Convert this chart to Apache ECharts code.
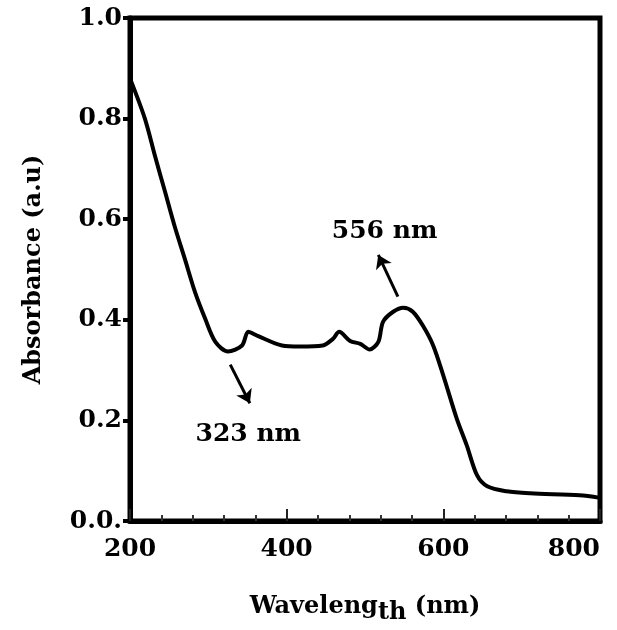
<!DOCTYPE html>
<html>
<head>
<meta charset="utf-8">
<script src="https://cdn.jsdelivr.net/npm/echarts@6/dist/echarts.min.js"></script>
<style>
  html, body { margin: 0; padding: 0; background: #fff; }
  #chart { width: 617px; height: 630px; }
</style>
</head>
<body>
<div id="chart"></div>
<script>
// UV-Vis spectrum, values
const wavelength = [200, 219, 232, 245, 257, 270, 283, 296, 309, 325, 343, 351, 363, 394, 417,
    446, 459, 467, 481, 494, 506, 517, 523, 536, 549, 561, 574, 587, 600, 617, 630, 643, 656,
    681, 711, 774, 800];
const absorbance = [0.88, 0.80, 0.725, 0.653, 0.586, 0.521, 0.455, 0.402, 0.356, 0.337, 0.349,
    0.376, 0.368, 0.349, 0.347, 0.349, 0.362, 0.376, 0.358, 0.352, 0.341, 0.356, 0.396, 0.416,
    0.424, 0.416, 0.388, 0.349, 0.289, 0.204, 0.150, 0.091, 0.069, 0.059, 0.055, 0.051, 0.046];

const xTicks = [200, 400, 600, 800];
const yTicks = [0.0, 0.2, 0.4, 0.6, 0.8, 1.0];

// peak / valley annotations: [label, labelX, labelY, arrowFromX, arrowFromY, arrowToX, arrowToY]
const peakLabels = ['556 nm', '323 nm'];
const peakLabelPos = [[525, 0.576], [351, 0.172]];
const peakArrows = [[[542, 0.446], [517, 0.529]], [[328, 0.311], [353, 0.234]]];

const font = 'DejaVu Serif';
const chart = echarts.init(document.getElementById('chart'));

chart.setOption({
    animation: false,
    grid: {
        left: 130,
        top: 18,
        width: 470,
        height: 505,
        show: true,
        borderColor: '#000',
        borderWidth: 5,
        backgroundColor: 'transparent'
    },
    xAxis: {
        type: 'value',
        min: xTicks[0],
        max: xTicks[xTicks.length - 1],
        interval: 200,
        name: '{a|Waveleng}{b|th}{a| (nm)}',
        nameLocation: 'middle',
        nameGap: 68,
        nameTextStyle: {
            rich: {
                a: { fontFamily: font, fontWeight: 'bold', fontSize: 24, color: '#000' },
                b: { fontFamily: font, fontWeight: 'bold', fontSize: 24, color: '#000', padding: [12, 0, 0, 0] }
            }
        },
        axisLine: { lineStyle: { color: '#000', width: 5 } },
        axisTick: { inside: true, length: 12, lineStyle: { color: '#222', width: 2 } },
        minorTick: { show: true, splitNumber: 5, length: 6, lineStyle: { color: '#333', width: 2 } },
        splitLine: { show: false },
        axisLabel: {
            margin: 16,
            fontFamily: font,
            fontWeight: 'bold',
            fontSize: 25,
            color: '#000',
            alignMaxLabel: 'right'
        }
    },
    yAxis: {
        type: 'value',
        min: yTicks[0],
        max: yTicks[yTicks.length - 1],
        interval: 0.2,
        name: 'Absorbance (a.u)',
        nameLocation: 'middle',
        nameGap: 84,
        nameTextStyle: { fontFamily: font, fontWeight: 'bold', fontSize: 24, color: '#000' },
        axisLine: { show: true, lineStyle: { color: '#000', width: 5 } },
        axisTick: { show: true, length: 7, lineStyle: { color: '#000', width: 4 } },
        splitLine: { show: false },
        axisLabel: {
            margin: 8,
            fontFamily: font,
            fontWeight: 'bold',
            fontSize: 25,
            color: '#000',
            formatter: v => (v === 0 ? '0.0.' : v.toFixed(1))
        }
    },
    series: [{
        type: 'line',
        data: wavelength.map((w, i) => [w, absorbance[i]]),
        showSymbol: false,
        smooth: 0.3,
        lineStyle: { color: '#000', width: 4 },
        markPoint: {
            symbol: 'circle',
            symbolSize: 0,
            label: {
                show: true,
                position: 'inside',
                fontFamily: font,
                fontWeight: 'bold',
                fontSize: 25,
                color: '#000',
                formatter: p => p.name
            },
            data: peakLabels.map((t, i) => ({ name: t, coord: peakLabelPos[i] }))
        },
        markLine: {
            silent: true,
            symbol: ['none', 'arrow'],
            symbolSize: 13,
            label: { show: false },
            lineStyle: { color: '#000', width: 3, type: 'solid' },
            data: peakArrows.map(a => [{ coord: a[0] }, { coord: a[1] }])
        }
    }]
});
</script>
</body>
</html>
